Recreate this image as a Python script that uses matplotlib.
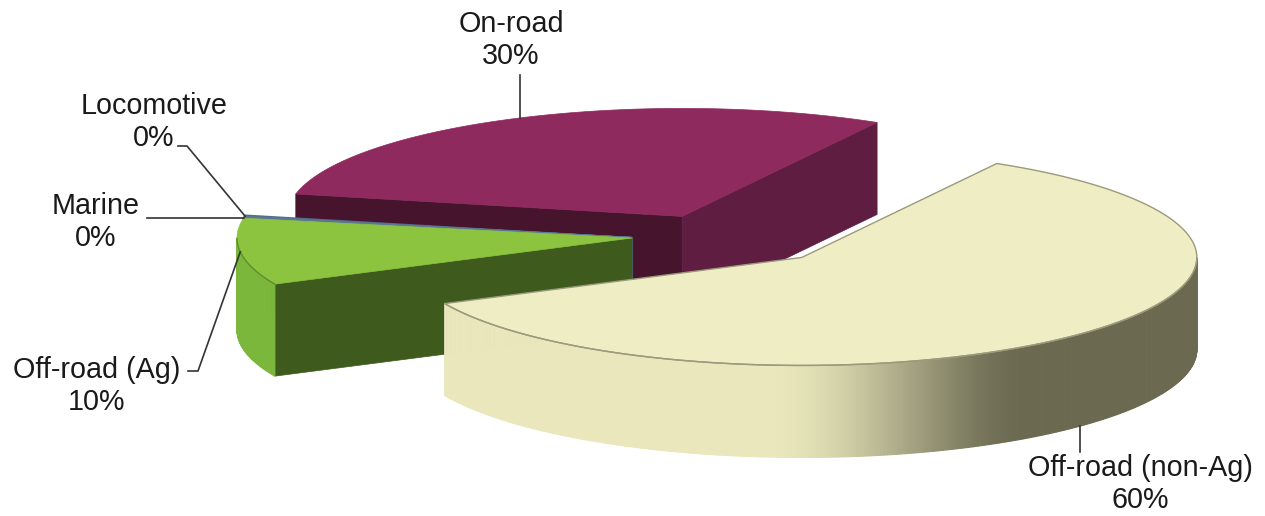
import numpy as np
import matplotlib.pyplot as plt
from matplotlib.patches import Polygon

plt.rcParams['font.family'] = ['Liberation Sans', 'DejaVu Sans']

# ------------------------------- dados -------------------------------
categories = ['On-road', 'Off-road (non-Ag)', 'Off-road (Ag)', 'Marine', 'Locomotive']
values = [30, 60, 10, 0.2, 0.2]

# ------------------------------- estilo ------------------------------
top_colors = ['#8e2a5d', '#eeedc3', '#8cc43f', '#5d7694', '#536c8c']
side_light = ['#5c1c3f', '#e9e7bb', '#7ab73b', '#4d6482', '#4d6482']
side_dark = ['#5c1c3f', '#6b6a51', '#7ab73b', '#4d6482', '#4d6482']
cut_hi = ['#47142d', '#d8d6a8', '#3e5a1c', '#4a5f7c', '#4a5f7c']
cut_lo = ['#5e1d41', '#d8d6a8', '#3e5a1c', '#4a5f7c', '#4a5f7c']
explode = [(0.127, 0.2), (0.43, -0.18), (0, 0), (0, 0), (0, 0)]

cx, cy = 632, 238      # centro da pizza (pixels)
a, b, H = 395, 108, 92  # raios da elipse e altura
start = 168.0


def P(u, v, z=0.0):
    u = np.atleast_1d(u)
    v = np.atleast_1d(v)
    return np.column_stack([cx + a * u, cy - b * v + H * z])


def rim(th, ox, oy, z=0.0):
    r = np.radians(th)
    return P(ox + np.cos(r), oy + np.sin(r), z)


def shade(th):
    # normaliza pra (-180, 180]
    th = (th + 180) % 360 - 180
    t = np.clip((th + 95) / 40.0, 0, 1)
    return t * t * (3 - 2 * t)


def mix(c1, c2, t):
    c1 = np.array(plt.matplotlib.colors.to_rgb(c1))
    c2 = np.array(plt.matplotlib.colors.to_rgb(c2))
    return c1 * (1 - t) + c2 * t


fig = plt.figure(figsize=(12.65, 5.16), dpi=100)
ax = fig.add_axes([0, 0, 1, 1])
ax.set_xlim(0, 1265)
ax.set_ylim(516, 0)
ax.axis('off')

total = sum(values)
cum = np.concatenate([[0], np.cumsum(values)])
hi = start - 360 * cum[:-1] / total
lo = start - 360 * cum[1:] / total
mid = (hi + lo) / 2
order = np.argsort(-np.sin(np.radians(mid)))

for i in order:
    ox, oy = explode[i]
    c_top = P(ox, oy, 0)[0]
    c_bot = P(ox, oy, 1)[0]
    thin = values[i] < 1
    lw = 1.5 if thin else 0.5

    # faces de corte
    if np.cos(np.radians(hi[i])) < 0:
        pts = np.vstack([c_top, rim(hi[i], ox, oy, 0), rim(hi[i], ox, oy, 1), c_bot])
        ax.add_patch(Polygon(pts, closed=True, fc=cut_hi[i], ec=cut_hi[i], lw=lw))
    if np.cos(np.radians(lo[i])) > 0:
        pts = np.vstack([c_top, rim(lo[i], ox, oy, 0), rim(lo[i], ox, oy, 1), c_bot])
        ax.add_patch(Polygon(pts, closed=True, fc=cut_lo[i], ec=cut_lo[i], lw=lw))

    # lateral externa (só a parte da frente)
    n = max(int((hi[i] - lo[i]) * 2), 2)
    th = np.linspace(lo[i], hi[i], n)
    for t0, t1 in zip(th[:-1], th[1:]):
        tm = (t0 + t1) / 2
        if np.sin(np.radians(tm)) >= 0:
            continue
        col = mix(side_light[i], side_dark[i], shade(tm))
        pts = np.vstack([rim(t0, ox, oy, 0), rim(t1, ox, oy, 0),
                         rim(t1, ox, oy, 1), rim(t0, ox, oy, 1)])
        ax.add_patch(Polygon(pts, closed=True, fc=col, ec=col, lw=0.8))

    # topo
    pts = np.vstack([c_top, rim(th, ox, oy, 0)])
    if i == 1:
        ax.add_patch(Polygon(pts, closed=True, fc=top_colors[i], ec='#9b9a7c', lw=1.0))
    else:
        ax.add_patch(Polygon(pts, closed=True, fc=top_colors[i], ec=top_colors[i], lw=lw))

    # linha da borda frontal
    front = th[np.sin(np.radians(th)) < 0]
    if len(front) > 1 and i in (1, 2):
        ec = '#9b9a7c' if i == 1 else '#5f8f2c'
        r = rim(front, ox, oy, 0)
        ax.plot(r[:, 0], r[:, 1], color=ec, lw=1.0)

# ------------------------------- rótulos -----------------------------
pct = [f"{round(v / total * 100)}%" for v in values]
label_xy = [(511, 40), (1140, 484), (97, 386), (96, 222), (154, 122)]
for i in range(len(categories)):
    ax.text(label_xy[i][0], label_xy[i][1], categories[i] + '\n' + pct[i],
            ha='center', va='center', fontsize=20.7, color='#1a1a1a',
            linespacing=1.15)

lc = '#333333'
anc = [rim(mid[i], explode[i][0], explode[i][1], 0)[0] for i in range(len(values))]
# On-road
ax.plot([anc[0][0], anc[0][0]], [75, anc[0][1]], color=lc, lw=1.2)
# non-Ag (na base da lateral)
p = rim(mid[1] + 2, explode[1][0], explode[1][1], 1)[0]
ax.plot([p[0], p[0]], [p[1], 452], color=lc, lw=1.2)
# Ag
ax.plot([188, 198, anc[2][0]], [371, 371, anc[2][1]], color=lc, lw=1.2)
# Marine
ax.plot([147, anc[3][0]], [anc[3][1], anc[3][1]], color=lc, lw=1.2)
# Locomotive
ax.plot([178, 187, anc[4][0]], [146, 146, anc[4][1]], color=lc, lw=1.2)

fig.savefig('out.png', dpi=100)
